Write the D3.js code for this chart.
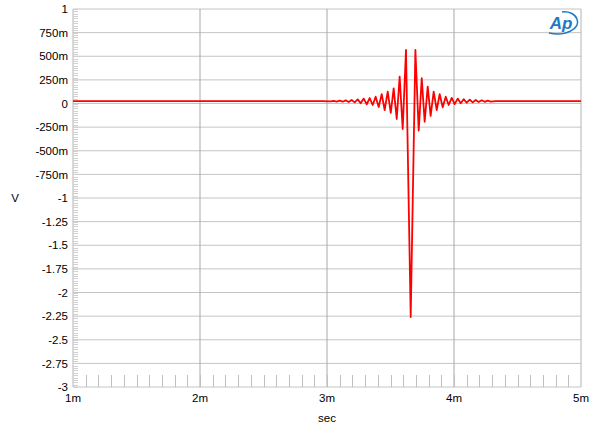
<!DOCTYPE html>
<html>
<head>
<meta charset="utf-8">
<script src="https://cdn.jsdelivr.net/npm/d3@7"></script>
<style>
  html, body { margin: 0; padding: 0; background: #fff; }
  svg { display: block; font-family: Arial, "Liberation Sans", sans-serif; }
</style>
</head>
<body>
<div id="chart"></div>
<script>
// impulse response, time in ms, level in V
const timeMs = [
  1.000, 2.960, 3.029, 3.053, 3.076, 3.100, 3.124, 3.147, 3.171, 3.194, 3.218,
  3.242, 3.265, 3.289, 3.313, 3.336, 3.360, 3.383, 3.407, 3.431, 3.454,
  3.478, 3.502, 3.525, 3.549, 3.572, 3.596, 3.622,
  3.659,
  3.696, 3.722, 3.746, 3.769, 3.793, 3.816, 3.840, 3.864, 3.887, 3.911,
  3.935, 3.958, 3.982, 4.005, 4.029, 4.053, 4.076, 4.100, 4.124, 4.147,
  4.171, 4.194, 4.218, 4.242, 4.265, 4.289, 4.330, 5.000
];
const volts = [
  0.025, 0.025, 0.022, 0.028, 0.021, 0.030, 0.019, 0.033, 0.016, 0.037, 0.012,
  0.044, 0.002, 0.052, -0.008, 0.058, -0.016, 0.072, -0.037, 0.100, -0.069,
  0.125, -0.100, 0.160, -0.164, 0.284, -0.270, 0.566,
  -2.259,
  0.566, -0.288, 0.267, -0.193, 0.178, -0.132, 0.125, -0.069, 0.100, -0.040,
  0.072, -0.016, 0.060, -0.006, 0.052, 0.002, 0.046, 0.008, 0.041, 0.012,
  0.037, 0.015, 0.034, 0.018, 0.031, 0.020, 0.025, 0.025
];

const xTicks = [1, 2, 3, 4, 5];
const yTicks = [1, 0.75, 0.5, 0.25, 0, -0.25, -0.5, -0.75, -1, -1.25, -1.5, -1.75, -2, -2.25, -2.5, -2.75, -3];

const width = 600, height = 433;
const margin = { top: 9, right: 19, bottom: 46, left: 73 };

const svg = d3.select('#chart')
    .append('svg')
    .attr('width', width)
    .attr('height', height);

// Scales
const x = d3.scaleLinear()
    .domain([1, 5])
    .range([margin.left, width - margin.right]);

const y = d3.scaleLinear()
    .domain([-3, 1])
    .range([height - margin.bottom, margin.top]);

const fmt = d3.formatLocale({ decimal: ".", thousands: ",", grouping: [3], currency: ["$", ""], minus: "-" }).format("~s");

// horizontal grid
svg.append("g")
    .selectAll("line")
    .data(yTicks)
    .join("line")
    .attr("x1", x(1)).attr("x2", x(5))
    .attr("y1", d => y(d)).attr("y2", d => y(d))
    .attr("stroke", "#c4c4c4")
    .attr("stroke-width", 1);

// vertical grid
svg.append("g")
    .selectAll("line")
    .data(xTicks)
    .join("line")
    .attr("x1", d => x(d)).attr("x2", d => x(d))
    .attr("y1", y(1)).attr("y2", y(-3))
    .attr("stroke", d => (d === 1 || d === 5) ? "#b4b4b4" : "#a8a8a8")
    .attr("stroke-width", 1);

// minor ticks on the left axis
svg.append("g")
    .selectAll("line")
    .data(d3.range(-3, 1.0001, 0.025))
    .join("line")
    .attr("x1", x(1)).attr("x2", x(1) + 5)
    .attr("y1", d => Math.round(y(d)) + 0.5).attr("y2", d => Math.round(y(d)) + 0.5)
    .attr("stroke", "#d0d0d0")
    .attr("stroke-width", 1);

// minor ticks along the bottom
svg.append("g")
    .selectAll("line")
    .data(d3.range(1.1, 5, 0.1))
    .join("line")
    .attr("x1", d => Math.round(x(d)) + 0.5).attr("x2", d => Math.round(x(d)) + 0.5)
    .attr("y1", y(-3)).attr("y2", y(-3) - 12)
    .attr("stroke", "#c0c0c0")
    .attr("stroke-width", 1);

// axis labels
svg.append("g")
    .selectAll("text")
    .data(yTicks)
    .join("text")
    .attr("x", x(1) - 5)
    .attr("y", d => y(d))
    .attr("dy", "0.36em")
    .attr("text-anchor", "end")
    .attr("font-size", 11.5)
    .attr("fill", "#000")
    .text(d => fmt(d));

svg.append("g")
    .selectAll("text")
    .data(xTicks)
    .join("text")
    .attr("x", d => x(d))
    .attr("y", y(-3) + 15)
    .attr("text-anchor", "middle")
    .attr("font-size", 11.5)
    .attr("fill", "#000")
    .text(d => d + "m");

svg.append("text")
    .attr("x", 15)
    .attr("y", 202)
    .attr("text-anchor", "middle")
    .attr("font-size", 11.5)
    .text("V");

svg.append("text")
    .attr("x", (x(1) + x(5)) / 2)
    .attr("y", 422)
    .attr("text-anchor", "middle")
    .attr("font-size", 11.5)
    .text("sec");

// trace
const line = d3.line()
    .x((d, i) => x(timeMs[i]))
    .y(d => y(d));

svg.append("path")
    .datum(volts)
    .attr("fill", "none")
    .attr("stroke", "#ff0000")
    .attr("stroke-width", 1.8)
    .attr("stroke-linejoin", "round")
    .attr("d", line);

// Ap logo
const logo = svg.append("g").attr("fill", "none");
logo.append("path")
    .attr("d", "M549,33 C566,37 581,28 577,19 C575,14 569,11 562,12")
    .attr("stroke", "#1f7ac4")
    .attr("stroke-width", 1.6);
logo.append("text")
    .attr("x", 561)
    .attr("y", 29)
    .attr("text-anchor", "middle")
    .attr("font-size", 17)
    .attr("font-style", "italic")
    .attr("font-weight", "bold")
    .attr("fill", "#1f7ac4")
    .text("Ap");
</script>
</body>
</html>
